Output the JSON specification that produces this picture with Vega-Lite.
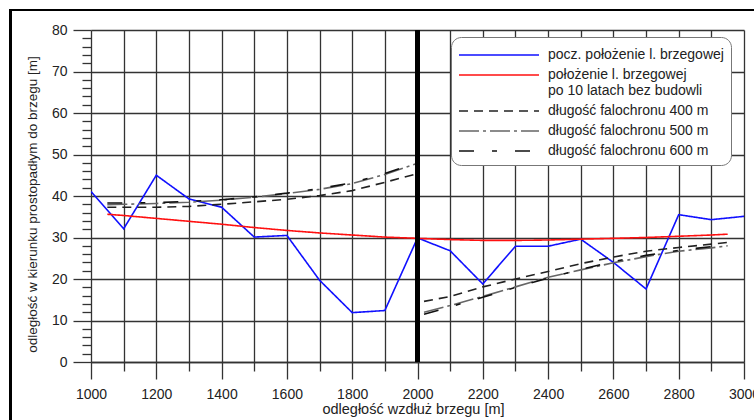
{
  "$schema": "https://vega.github.io/schema/vega-lite/v6.json",
  "width": 653,
  "height": 332,
  "autosize": "none",
  "padding": {"left": 91, "top": 30, "right": 10, "bottom": 58},
  "background": "white",
  "config": {"font": "Liberation Sans", "view": {"stroke": null}},
  "data": {"values": [
    {"s":"A","p":"L","x":1000,"y":41.1},{"s":"A","p":"L","x":1100,"y":32.1},{"s":"A","p":"L","x":1200,"y":45.0},{"s":"A","p":"L","x":1300,"y":39.3},{"s":"A","p":"L","x":1400,"y":37.3},{"s":"A","p":"L","x":1500,"y":30.1},{"s":"A","p":"L","x":1600,"y":30.5},{"s":"A","p":"L","x":1700,"y":19.7},{"s":"A","p":"L","x":1800,"y":11.9},{"s":"A","p":"L","x":1900,"y":12.4},{"s":"A","p":"L","x":2000,"y":29.9},{"s":"A","p":"L","x":2100,"y":26.8},{"s":"A","p":"L","x":2200,"y":18.8},{"s":"A","p":"L","x":2300,"y":27.9},{"s":"A","p":"L","x":2400,"y":27.9},{"s":"A","p":"L","x":2500,"y":29.6},{"s":"A","p":"L","x":2600,"y":24.0},{"s":"A","p":"L","x":2700,"y":17.6},{"s":"A","p":"L","x":2800,"y":35.5},{"s":"A","p":"L","x":2900,"y":34.3},{"s":"A","p":"L","x":3000,"y":35.1},
    {"s":"B","p":"L","x":1050,"y":35.6},{"s":"B","p":"L","x":1100,"y":35.3},{"s":"B","p":"L","x":1200,"y":34.6},{"s":"B","p":"L","x":1300,"y":33.9},{"s":"B","p":"L","x":1400,"y":33.2},{"s":"B","p":"L","x":1500,"y":32.4},{"s":"B","p":"L","x":1600,"y":31.7},{"s":"B","p":"L","x":1700,"y":31.1},{"s":"B","p":"L","x":1800,"y":30.6},{"s":"B","p":"L","x":1900,"y":30.1},{"s":"B","p":"L","x":2000,"y":29.8},{"s":"B","p":"L","x":2100,"y":29.5},{"s":"B","p":"L","x":2200,"y":29.3},{"s":"B","p":"L","x":2300,"y":29.3},{"s":"B","p":"L","x":2400,"y":29.4},{"s":"B","p":"L","x":2500,"y":29.6},{"s":"B","p":"L","x":2600,"y":29.8},{"s":"B","p":"L","x":2700,"y":30.0},{"s":"B","p":"L","x":2800,"y":30.3},{"s":"B","p":"L","x":2900,"y":30.6},{"s":"B","p":"L","x":2950,"y":30.8},
    {"s":"C","p":"L","x":1050,"y":37.3},{"s":"C","p":"L","x":1100,"y":37.3},{"s":"C","p":"L","x":1200,"y":37.3},{"s":"C","p":"L","x":1300,"y":37.5},{"s":"C","p":"L","x":1400,"y":38.0},{"s":"C","p":"L","x":1500,"y":38.6},{"s":"C","p":"L","x":1600,"y":39.2},{"s":"C","p":"L","x":1700,"y":40.1},{"s":"C","p":"L","x":1800,"y":41.3},{"s":"C","p":"L","x":1900,"y":43.3},{"s":"C","p":"L","x":2000,"y":45.4},
    {"s":"D","p":"L","x":1050,"y":37.9},{"s":"D","p":"L","x":1100,"y":38.0},{"s":"D","p":"L","x":1200,"y":38.2},{"s":"D","p":"L","x":1300,"y":38.5},{"s":"D","p":"L","x":1400,"y":39.0},{"s":"D","p":"L","x":1500,"y":39.7},{"s":"D","p":"L","x":1600,"y":40.6},{"s":"D","p":"L","x":1700,"y":41.6},{"s":"D","p":"L","x":1800,"y":43.0},{"s":"D","p":"L","x":1900,"y":45.2},{"s":"D","p":"L","x":2000,"y":47.9},
    {"s":"E","p":"L","x":1050,"y":38.3},{"s":"E","p":"L","x":1100,"y":38.3},{"s":"E","p":"L","x":1200,"y":38.4},{"s":"E","p":"L","x":1300,"y":38.7},{"s":"E","p":"L","x":1400,"y":39.1},{"s":"E","p":"L","x":1500,"y":39.8},{"s":"E","p":"L","x":1600,"y":40.7},{"s":"E","p":"L","x":1700,"y":41.8},{"s":"E","p":"L","x":1800,"y":43.2},{"s":"E","p":"L","x":1900,"y":45.4},{"s":"E","p":"L","x":2000,"y":48.1},
    {"s":"C","p":"R","x":2020,"y":14.6},{"s":"C","p":"R","x":2100,"y":15.8},{"s":"C","p":"R","x":2200,"y":18.1},{"s":"C","p":"R","x":2300,"y":20.0},{"s":"C","p":"R","x":2400,"y":21.8},{"s":"C","p":"R","x":2500,"y":23.7},{"s":"C","p":"R","x":2600,"y":25.3},{"s":"C","p":"R","x":2700,"y":26.7},{"s":"C","p":"R","x":2800,"y":27.6},{"s":"C","p":"R","x":2900,"y":28.4},{"s":"C","p":"R","x":2950,"y":28.8},
    {"s":"D","p":"R","x":2020,"y":12.0},{"s":"D","p":"R","x":2100,"y":13.6},{"s":"D","p":"R","x":2200,"y":15.8},{"s":"D","p":"R","x":2300,"y":18.1},{"s":"D","p":"R","x":2400,"y":20.4},{"s":"D","p":"R","x":2500,"y":22.2},{"s":"D","p":"R","x":2600,"y":23.9},{"s":"D","p":"R","x":2700,"y":25.4},{"s":"D","p":"R","x":2800,"y":26.7},{"s":"D","p":"R","x":2900,"y":27.5},{"s":"D","p":"R","x":2950,"y":28.0},
    {"s":"E","p":"R","x":2020,"y":11.5},{"s":"E","p":"R","x":2100,"y":13.3},{"s":"E","p":"R","x":2200,"y":15.6},{"s":"E","p":"R","x":2300,"y":18.0},{"s":"E","p":"R","x":2400,"y":20.2},{"s":"E","p":"R","x":2500,"y":22.3},{"s":"E","p":"R","x":2600,"y":24.2},{"s":"E","p":"R","x":2700,"y":25.7},{"s":"E","p":"R","x":2800,"y":26.9},{"s":"E","p":"R","x":2900,"y":27.8},{"s":"E","p":"R","x":2950,"y":28.2}
  ]},
  "layer": [
    {
      "mark": {"type": "line", "clip": true},
      "encoding": {
        "x": {"field": "x", "type": "quantitative",
          "scale": {"domain": [1000, 3000], "nice": false, "zero": false},
          "axis": {
            "values": [1000,1100,1200,1300,1400,1500,1600,1700,1800,1900,2000,2100,2200,2300,2400,2500,2600,2700,2800,2900,3000],
            "tickCount": 200,
            "format": "d",
            "labelExpr": "datum.value % 200 === 0 ? datum.label : ''",
            "labelFlush": false, "labelOverlap": false,
            "title": "odległość wzdłuż brzegu [m]",
            "grid": true, "gridColor": "#333", "gridWidth": 1.3,
            "domain": true, "domainColor": "#333", "domainWidth": 1.3,
            "tickColor": "#333", "tickWidth": 1.3,
            "tickSize": {"condition": {"test": "datum.value % 200 === 0", "value": 17}, "value": 9},
            "labelPadding": {"condition": {"test": "datum.value % 200 === 0", "value": 8}, "value": 16},
            "labelFontSize": 14, "labelColor": "#222",
            "titleFontSize": 14.5, "titleFontWeight": "normal", "titleColor": "#222", "titlePadding": 1, "titleLimit": 1000,
            "titleX": 322
          }},
        "y": {"field": "y", "type": "quantitative",
          "scale": {"domain": [0, 80], "nice": false},
          "axis": {
            "values": [0,2,4,6,8,10,12,14,16,18,20,22,24,26,28,30,32,34,36,38,40,42,44,46,48,50,52,54,56,58,60,62,64,66,68,70,72,74,76,78,80],
            "tickCount": 200,
            "format": "d",
            "labelExpr": "datum.value % 10 === 0 ? datum.label : ''",
            "labelFlush": false, "labelOverlap": false,
            "title": "odległość w kierunku prostopadłym do brzegu [m]",
            "grid": true, "gridColor": "#333", "gridWidth": 1.3,
            "gridOpacity": {"condition": {"test": "datum.value % 10 === 0", "value": 1}, "value": 0},
            "domain": false,
            "tickColor": "#333", "tickWidth": 1.3,
            "tickSize": {"condition": {"test": "datum.value % 10 === 0", "value": 18}, "value": 9},
            "labelPadding": {"condition": {"test": "datum.value % 10 === 0", "value": 6}, "value": 15},
            "labelFontSize": 14, "labelColor": "#222",
            "titleFontSize": 13.5, "titleFontWeight": "normal", "titleColor": "#222", "titlePadding": 12, "titleLimit": 1000,
            "titleY": 174
          }},
        "color": {"field": "s", "type": "nominal",
          "scale": {"domain": ["A","B","C","D","E"], "range": ["#1010ff","#ff1010","#222222","#666666","#111111"]},
          "legend": {
            "title": null, "orient": "none", "legendX": 360, "legendY": 7,
            "symbolType": "M-1,0H7", "symbolSize": 400,
            "labelFontSize": 14, "labelColor": "#222", "labelLimit": 400, "labelOffset": 68,
            "padding": 7, "rowPadding": 2,
            "fillColor": "white", "strokeColor": "#777", "cornerRadius": 10,
            "labelExpr": "datum.label == 'A' ? 'pocz. położenie l. brzegowej' : datum.label == 'B' ? ['położenie l. brzegowej', 'po 10 latach bez budowli'] : datum.label == 'C' ? 'długość falochronu 400 m' : datum.label == 'D' ? 'długość falochronu 500 m' : 'długość falochronu 600 m'"
          }},
        "strokeDash": {"field": "s", "type": "nominal",
          "scale": {"domain": ["A","B","C","D","E"], "range": [[1,0],[1,0],[9,6],[20,4,3,4],[15,18,5,18]]}},
        "strokeWidth": {"field": "s", "type": "nominal",
          "scale": {"domain": ["A","B","C","D","E"], "range": [1.6,1.6,1,1,1]}},
        "detail": {"field": "p"}
      }
    },
    {
      "mark": {"type": "rule", "color": "black", "strokeWidth": 4},
      "encoding": {"x": {"datum": 2000, "type": "quantitative"}, "y": {"datum": 0, "type": "quantitative"}, "y2": {"datum": 80}}
    },
    {
      "mark": {"type": "rect", "filled": false, "color": "black", "strokeWidth": 2, "clip": false},
      "encoding": {"x": {"datum": 752, "type": "quantitative"}, "x2": {"datum": 3200}, "y": {"datum": 84.8, "type": "quantitative"}, "y2": {"datum": -30}}
    }
  ]
}
